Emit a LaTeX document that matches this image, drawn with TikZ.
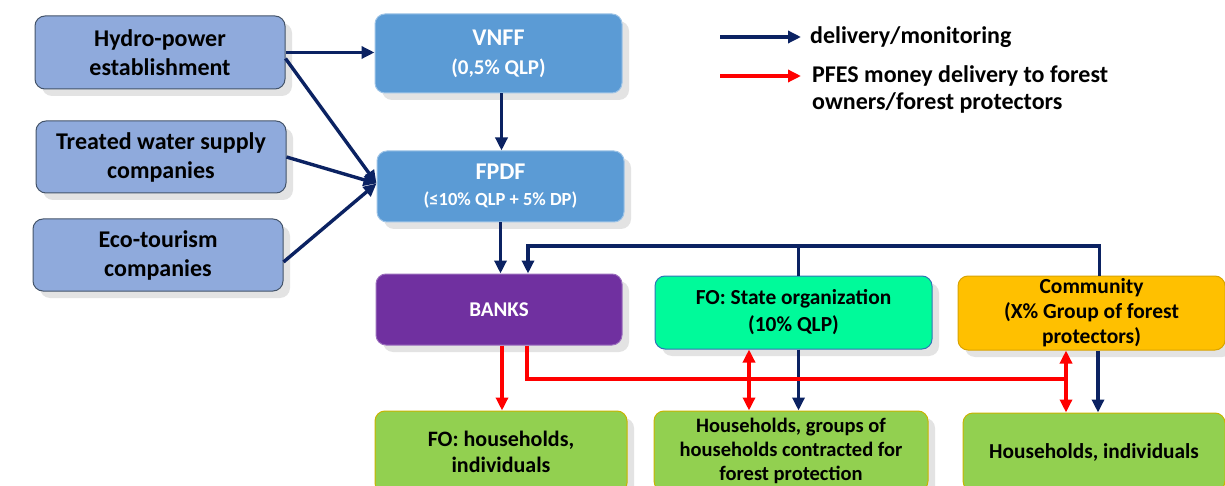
\documentclass[tikz,border=0pt]{standalone}
\usepackage{fontspec}
\setmainfont{Carlito}
\usetikzlibrary{arrows.meta,shadows,calc}
\definecolor{lblue}{HTML}{8FAADC}
\definecolor{lblueb}{HTML}{44546A}
\definecolor{mblue}{HTML}{5B9BD5}
\definecolor{mblueb}{HTML}{9DC3E6}
\definecolor{purp}{HTML}{7030A0}
\definecolor{mint}{HTML}{00FA9A}
\definecolor{mintb}{HTML}{2E75B6}
\definecolor{gold}{HTML}{FFC000}
\definecolor{goldb}{HTML}{D9A300}
\definecolor{lgreen}{HTML}{92D050}
\definecolor{lgreenb}{HTML}{C9B400}
\definecolor{navy}{HTML}{0B2262}
\definecolor{fred}{HTML}{FF0000}
\tikzset{
  box/.style={rounded corners=10pt, line width=1pt, align=center, font=\bfseries\fontsize{24}{29}\selectfont,
    inner sep=2pt, drop shadow={opacity=0.22, shadow xshift=7pt, shadow yshift=-7pt}},
  srcbox/.style={box, fill=lblue, draw=lblueb},
  fundbox/.style={box, fill=mblue, draw=mblueb, text=white},
  bankbox/.style={box, fill=purp, draw=purp!70!white, text=white},
  statebox/.style={box, fill=mint, draw=mintb, font=\bfseries\fontsize{21.4}{27}\selectfont},
  commbox/.style={box, fill=gold, draw=goldb, font=\bfseries\fontsize{21.5}{25}\selectfont},
  hhbox/.style={box, fill=lgreen, draw=lgreenb},
  navyarrow/.style={draw=navy, line width=3.4pt, -{Triangle[length=13pt,width=12pt]}},
  navyline/.style={draw=navy, line width=3.4pt},
  redarrow/.style={draw=fred, line width=3.4pt, -{Triangle[length=13pt,width=12pt]}},
  redboth/.style={draw=fred, line width=3.4pt, {Triangle[length=13pt,width=12pt]}-{Triangle[length=13pt,width=12pt]}},
  redline/.style={draw=fred, line width=3.4pt},
  legtext/.style={anchor=west, align=left, font=\bfseries\fontsize{24}{27}\selectfont, inner sep=0pt}
}
\begin{document}
\begin{tikzpicture}[x=1pt,y=-1pt]
\useasboundingbox[fill=white] (0,0) rectangle (1225,486);
% sources
\node[srcbox, minimum width=250pt, minimum height=73pt] (hydro) at (160,52.5) {Hydro-power\\establishment};
\node[srcbox, minimum width=250pt, minimum height=72pt] (water) at (161,157) {Treated water supply\\companies};
\node[srcbox, minimum width=250pt, minimum height=72pt] (eco) at (158,255) {Eco-tourism\\companies};
% funds
\node[fundbox, minimum width=247pt, minimum height=79pt] (vnff) at (498.5,53.5) {VNFF\\[0pt]{\fontsize{21}{24}\selectfont (0,5\% QLP)}};
\node[fundbox, minimum width=247pt, minimum height=71pt] (fpdf) at (500.5,186.5) {FPDF\\[-3pt]{\fontsize{18.5}{22}\selectfont (≤10\% QLP + 5\% DP)}};
\node[bankbox, minimum width=246pt, minimum height=71pt, font=\bfseries\fontsize{21}{24}\selectfont] (banks) at (499,309.5) {BANKS};
\node[statebox, minimum width=277pt, minimum height=73pt] (state) at (793.5,312.5) {FO: State organization\\(10\% QLP)};
\node[commbox, minimum width=267pt, minimum height=74pt] (comm) at (1091.5,313) {Community\\(X\% Group of forest\\protectors)};
% bottom
\node[hhbox, minimum width=252pt, minimum height=82pt, font=\bfseries\fontsize{22}{26}\selectfont] (foh) at (501,452) {FO: households,\\individuals};
\node[hhbox, minimum width=274pt, minimum height=80pt, font=\bfseries\fontsize{20.5}{24}\selectfont] (groups) at (791,451) {Households, groups of\\households contracted for\\forest protection};
\node[hhbox, minimum width=262pt, minimum height=78pt, font=\bfseries\fontsize{21.3}{26}\selectfont] (hind) at (1094,452) {Households, individuals};
% navy arrows
\draw[navyarrow] (hydro.east) -- (hydro.east -| vnff.west);
\draw[navyarrow] ([yshift=-6pt]hydro.east) -- ([yshift=3pt]fpdf.west);
\draw[navyarrow] (water.east) -- ([yshift=3pt]fpdf.west);
\draw[navyarrow] ([yshift=-7pt]eco.east) -- ([yshift=3pt]fpdf.west);
\draw[navyarrow] ([xshift=3pt]vnff.south) -- ([xshift=3pt]vnff.south |- fpdf.north);
\draw[navyarrow] (fpdf.south) -- (fpdf.south |- banks.north);
\coordinate (topy) at (0,246);
\draw[navyline] ([xshift=5pt]state.north) -- ([xshift=5pt]state.north |- topy);
\draw[navyarrow] ([xshift=8pt]comm.north) -- ([xshift=8pt]comm.north |- topy) -| ([xshift=29pt]banks.north);
\draw[navyarrow] ([xshift=5pt]state.south) -- ([xshift=5pt]state.south |- groups.north);
\draw[navyarrow] ([xshift=6.5pt]comm.south) -- ([xshift=6.5pt]comm.south |- hind.north);
% red arrows
\coordinate (redy) at (0,379);
\draw[redarrow] ([xshift=3pt]banks.south) -- ([xshift=3pt]banks.south |- foh.north);
\draw[redline] ([xshift=28pt]banks.south) |- ([xshift=-25.5pt]comm.south |- redy);
\draw[redboth] ([xshift=-44.5pt]state.south) -- ([xshift=-44.5pt]state.south |- groups.north);
\draw[redboth] ([xshift=-25.5pt]comm.south) -- ([xshift=-25.5pt]comm.south |- hind.north);
% legend
\coordinate (l1a) at (720,37);
\coordinate (l1b) at (801,37);
\coordinate (l2a) at (720,76);
\coordinate (l2b) at (801,76);
\draw[navyarrow] (l1a) -- (l1b);
\draw[redarrow] (l2a) -- (l2b);
\node[legtext] (leg1) at (810,37) {delivery/monitoring};
\node[legtext] (leg2) at (812,89) {PFES money delivery to forest\\owners/forest protectors};
\end{tikzpicture}
\end{document}
